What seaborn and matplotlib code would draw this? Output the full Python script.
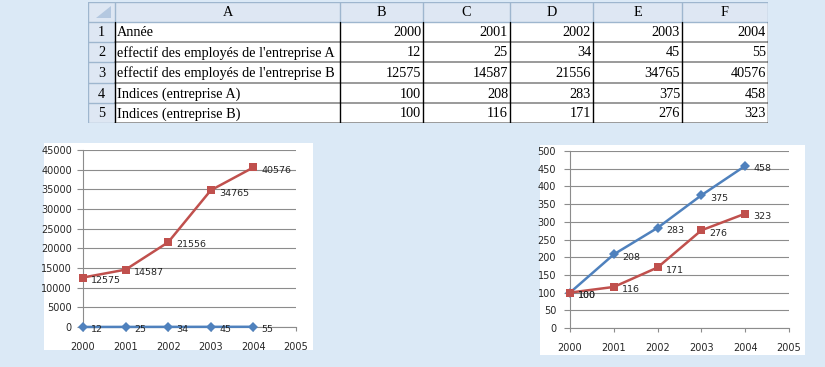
import matplotlib
matplotlib.use("Agg")
import matplotlib.pyplot as plt
import matplotlib.patches as mpatches
import pandas as pd
import seaborn as sns

# data from the spreadsheet
years = [2000, 2001, 2002, 2003, 2004]
effectif_a = [12, 25, 34, 45, 55]
effectif_b = [12575, 14587, 21556, 34765, 40576]
indice_a = [100, 208, 283, 375, 458]
indice_b = [100, 116, 171, 276, 323]
row_labels = ["Année",
              "effectif des employés de l'entreprise A",
              "effectif des employés de l'entreprise B",
              "Indices (entreprise A)",
              "Indices (entreprise B)"]
col_letters = ["A", "B", "C", "D", "E", "F"]

BLUE = "#4F81BD"
RED = "#C0504D"
BG = "#DBE9F6"
GRID = "#8C8C8C"
TXT = "#262626"

sns.set_theme(style="white")
plt.rcParams["font.family"] = ["DejaVu Sans"]

W, H = 825, 367
fig = plt.figure(figsize=(W / 100, H / 100), dpi=100, facecolor=BG)


def px_axes(x0, y0, x1, y1):
    # axes placed in pixel coords (origin top left)
    return fig.add_axes([x0 / W, 1 - y1 / H, (x1 - x0) / W, (y1 - y0) / H])


def white_box(x0, y0, x1, y1):
    fig.add_artist(mpatches.Rectangle((x0 / W, 1 - y1 / H), (x1 - x0) / W, (y1 - y0) / H,
                                      transform=fig.transFigure, facecolor="white",
                                      edgecolor="none", zorder=0))


# --- table ---
col_edges = [88, 115, 340, 423, 510, 593, 682, 768]
row_edges = [2, 22, 42, 62, 83, 103, 123]
tab = px_axes(col_edges[0], row_edges[0], col_edges[-1], row_edges[-1])
tab.set_xlim(col_edges[0], col_edges[-1])
tab.set_ylim(row_edges[-1], row_edges[0])
tab.axis("off")

HEAD = "#DEE7F3"
HEAD_LINE = "#9EB6CE"
tab.add_patch(mpatches.Rectangle((col_edges[0], row_edges[0]), col_edges[-1] - col_edges[0],
                                 row_edges[1] - row_edges[0], facecolor=HEAD, edgecolor="none"))
tab.add_patch(mpatches.Rectangle((col_edges[0], row_edges[1]), col_edges[1] - col_edges[0],
                                 row_edges[-1] - row_edges[1], facecolor=HEAD, edgecolor="none"))
tab.add_patch(mpatches.Rectangle((col_edges[1], row_edges[1]), col_edges[-1] - col_edges[1],
                                 row_edges[-1] - row_edges[1], facecolor="white", edgecolor="none"))
# corner triangle
tab.add_patch(mpatches.Polygon([(col_edges[1] - 4, row_edges[0] + 4),
                                (col_edges[1] - 4, row_edges[1] - 4),
                                (col_edges[0] + 8, row_edges[1] - 4)],
                               facecolor="#B4C8E0", edgecolor="none"))

# header lines
for x in col_edges:
    tab.plot([x, x], [row_edges[0], row_edges[1]], color=HEAD_LINE, lw=1)
tab.plot([col_edges[0], col_edges[-1]], [row_edges[0], row_edges[0]], color=HEAD_LINE, lw=1)
tab.plot([col_edges[0], col_edges[-1]], [row_edges[1], row_edges[1]], color=HEAD_LINE, lw=1)
tab.plot([col_edges[0], col_edges[0]], [row_edges[1], row_edges[-1]], color=HEAD_LINE, lw=1)
for y in row_edges[2:]:
    tab.plot([col_edges[0], col_edges[1]], [y, y], color=HEAD_LINE, lw=1)
    tab.plot([col_edges[1], col_edges[-1]], [y, y], color="#7F7F7F", lw=1.1)
for x in col_edges[1:]:
    tab.plot([x, x], [row_edges[1], row_edges[-1]], color="black", lw=1)

serif = dict(family=["Liberation Serif"], fontsize=10.3, color="black")
for i, letter in enumerate(col_letters):
    tab.text((col_edges[i + 1] + col_edges[i + 2]) / 2, (row_edges[0] + row_edges[1]) / 2 + 1,
             letter, ha="center", va="center", **serif)

table_rows = [years, effectif_a, effectif_b, indice_a, indice_b]
for r, (lab, vals) in enumerate(zip(row_labels, table_rows)):
    yc = (row_edges[r + 1] + row_edges[r + 2]) / 2 + 1
    tab.text((col_edges[0] + col_edges[1]) / 2, yc, str(r + 1), ha="center", va="center", **serif)
    tab.text(col_edges[1] + 2, yc, lab, ha="left", va="center", **serif)
    for c, v in enumerate(vals):
        tab.text(col_edges[c + 3] - 2, yc, str(v), ha="right", va="center", **serif)


# --- charts ---
def line_chart(box, area, serie_a, serie_b, ymax, ystep, pad_y):
    white_box(*box)
    ax = px_axes(*area)
    df = pd.DataFrame({"year": years * 2,
                       "value": serie_a + serie_b,
                       "serie": ["A"] * len(years) + ["B"] * len(years)})
    sns.lineplot(data=df, x="year", y="value", hue="serie", style="serie",
                 markers={"A": "D", "B": "s"}, dashes=False,
                 palette={"A": BLUE, "B": RED}, linewidth=1.8,
                 markersize=6.3, markeredgewidth=0, legend=False, ax=ax,
                 zorder=3, clip_on=False)
    # diamonds are a bit smaller than the squares
    for ln in ax.lines:
        if ln.get_marker() == "D":
            ln.set_markersize(4.8)
    for s in [serie_a, serie_b]:
        for x, v in zip(years, s):
            ax.annotate(str(v), (x, v), xytext=(6, -2), textcoords="offset points",
                        ha="left", va="center", fontsize=6.8, color=TXT, zorder=4)
    ticks_x = list(range(years[0], years[-1] + 2))
    ax.set_xlim(ticks_x[0], ticks_x[-1])
    ax.set_xticks(ticks_x)
    ax.set_xticklabels([str(t) for t in ticks_x])
    ax.set_ylim(0, ymax)
    ax.set_yticks(range(0, ymax + 1, ystep))
    ax.set_facecolor("none")
    ax.set_xlabel("")
    ax.set_ylabel("")
    ax.yaxis.grid(True, color=GRID, lw=0.8)
    ax.xaxis.grid(False)
    ax.set_axisbelow(True)
    for side in ["top", "right"]:
        ax.spines[side].set_visible(False)
    for side in ["left", "bottom"]:
        ax.spines[side].set_color(GRID)
        ax.spines[side].set_linewidth(0.8)
    ax.tick_params(axis="y", left=True, direction="out", length=4, width=0.8,
                   color=GRID, labelsize=7, labelcolor=TXT, pad=pad_y)
    ax.tick_params(axis="x", bottom=True, direction="out", length=3, width=0.8,
                   color=GRID, labelsize=7, labelcolor=TXT, pad=8)
    return ax


line_chart((44, 143, 313, 350), (83, 150, 296, 327), effectif_a, effectif_b, 45000, 5000, 4)
line_chart((540, 145, 805, 355), (570, 151, 789, 328), indice_a, indice_b, 500, 50, 6)

fig.savefig("out.png", dpi=100, facecolor=BG)
